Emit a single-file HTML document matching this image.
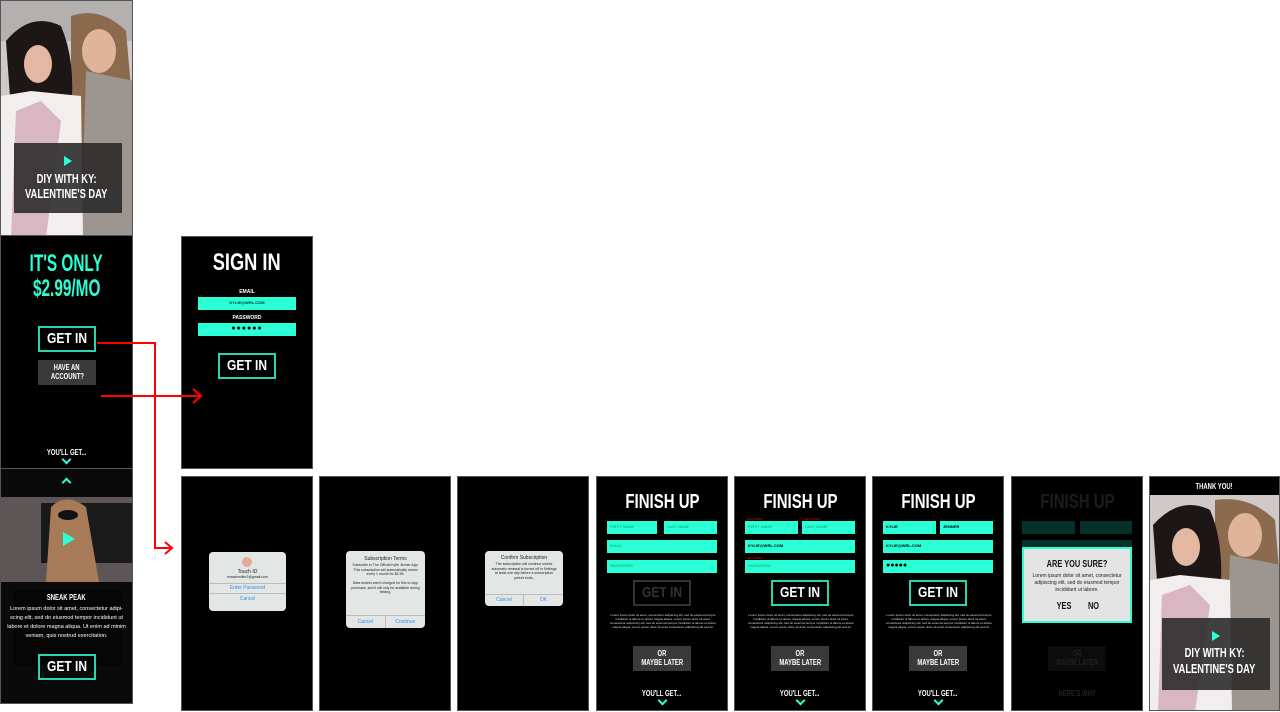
<!DOCTYPE html>
<html><head><meta charset="utf-8">
<style>
*{margin:0;padding:0;box-sizing:border-box}
body{width:1280px;height:712px;background:#fff;position:relative;overflow:hidden;font-family:"Liberation Sans Narrow","Liberation Sans",sans-serif}
.a{position:absolute}
.c{display:inline-block;transform:scaleX(.74);white-space:nowrap}
.scr{position:absolute;background:#000;border:1px solid #555;overflow:hidden}
.t{position:absolute;left:0;right:0;text-align:center;color:#fff;font-weight:bold}
.btn{position:absolute;border:2px solid #2ad6b0;color:#fff;font-weight:bold;text-align:center;font-size:15px;line-height:22px}
.gbtn{position:absolute;background:#3a3a3a;color:#fff;font-weight:bold;text-align:center;font-size:8px;line-height:9px;padding-top:3px}
.fld{position:absolute;background:#2bffd6;color:#0a6;font-size:4px;line-height:12px;padding-left:3px}
.chev{position:absolute;width:7px;height:7px;border-right:2px solid #2bffd6;border-bottom:2px solid #2bffd6;transform:rotate(45deg)}
.lorem{position:absolute;color:#ddd;font-size:3px;line-height:4px;text-align:center;font-family:"Liberation Sans",sans-serif}
.dlg{position:absolute;background:#e2e6e5;border-radius:4px;font-family:"Liberation Sans",sans-serif;text-align:center;color:#222}
.req{position:absolute;color:#e00;font-size:3px}
</style></head><body>

<!-- Screen 1: photo -->
<div class="scr" style="left:0;top:0;width:133px;height:236px;background:#c9c4c6">
<svg class="a" style="left:0;top:0" width="133" height="236">
<rect width="133" height="236" fill="#cfc9c8"/>
<rect x="0" y="0" width="133" height="40" fill="#b5b0b0"/>
<path d="M70 15 Q100 5 125 30 L133 120 L133 236 L70 236 Z" fill="#8b6a4e"/>
<path d="M85 70 L133 80 L133 236 L80 236 Z" fill="#9d958f"/>
<ellipse cx="98" cy="50" rx="17" ry="22" fill="#e0b39b"/>
<path d="M5 40 Q30 10 60 25 Q75 60 70 110 L10 110 Z" fill="#1c1616"/>
<ellipse cx="37" cy="63" rx="14" ry="19" fill="#e3b8a3"/>
<path d="M0 95 L30 90 L80 95 L82 236 L0 236 Z" fill="#f2eeee"/>
<path d="M15 110 L40 100 L60 120 L45 236 L10 236 Z" fill="#d8b6c2"/>
</svg>
<div class="a" style="left:13px;top:142px;width:108px;height:70px;background:rgba(40,40,40,.88)"></div>
<div class="a" style="left:63px;top:155px;width:0;height:0;border-left:8px solid #2bffd6;border-top:5px solid transparent;border-bottom:5px solid transparent"></div>
<div class="t" style="top:170px;font-size:13px;line-height:15px"><span class="c" style="transform:scaleX(.72)">DIY WITH KY:</span><br><span class="c" style="transform:scaleX(.72)">VALENTINE'S DAY</span></div>
</div>

<!-- Screen 2 -->
<div class="scr" style="left:0;top:235px;width:133px;height:234px">
<div class="t" style="top:15px;font-size:24px;line-height:25px;color:#2bffd6"><span class="c" style="transform:scaleX(.64)">IT'S ONLY</span><br><span class="c" style="transform:scaleX(.64)">$2.99/MO</span></div>
<div class="btn" style="left:37px;top:90px;width:58px;height:26px"><span class="c" style="transform:scaleX(.8)">GET IN</span></div>
<div class="gbtn" style="left:37px;top:124px;width:58px;height:25px"><span class="c">HAVE AN</span><br><span class="c">ACCOUNT?</span></div>
<div class="t" style="top:212px;font-size:8px"><span class="c">YOU'LL GET...</span></div>
<div class="chev" style="left:62px;top:220px"></div>
</div>

<!-- Screen 3 -->
<div class="scr" style="left:0;top:468px;width:133px;height:236px;background:#0a0a0a">
<div class="chev" style="left:62px;top:10px;transform:rotate(225deg)"></div>
<svg class="a" style="left:0;top:28px" width="133" height="85">
<rect width="133" height="85" fill="#5e5556"/>
<rect x="40" y="6" width="93" height="60" fill="#1a1a1a"/>
<path d="M50 10 Q65 -5 85 10 L98 85 L45 85 Z" fill="#a77a58"/>
<ellipse cx="67" cy="18" rx="10" ry="5" fill="#111"/>
</svg>
<div class="a" style="left:62px;top:63px;width:0;height:0;border-left:12px solid #2bffd6;border-top:7px solid transparent;border-bottom:7px solid transparent"></div>
<div class="a" style="left:12px;top:122px;width:109px;height:74px;background:#050505"></div>
<div class="t" style="top:124px;font-size:8px"><span class="c">SNEAK PEAK</span></div>
<div class="t" style="top:136px;font-size:5.5px;line-height:9px;font-family:'Liberation Sans',sans-serif;font-weight:normal;padding:0 6px">Lorem ipsum dolor sit amet, consectetur adipi-scing elit, sed do eiusmod tempor incididunt ut labore et dolore magna aliqua. Ut enim ad minim veniam, quis nostrud exercitation.</div>
<div class="btn" style="left:37px;top:185px;width:58px;height:26px"><span class="c" style="transform:scaleX(.8)">GET IN</span></div>
</div>

<!-- Sign in -->
<div class="scr" style="left:181px;top:236px;width:132px;height:233px">
<div class="t" style="top:12px;font-size:24px"><span class="c" style="transform:scaleX(.76)">SIGN IN</span></div>
<div class="t" style="top:52px;font-size:5px">EMAIL</div>
<div class="fld" style="left:16px;top:60px;width:98px;height:13px;text-align:center;color:#033;font-weight:bold;padding:0">KYLIE@WRL.COM</div>
<div class="t" style="top:78px;font-size:5px">PASSWORD</div>
<div class="fld" style="left:16px;top:86px;width:98px;height:13px;text-align:center;color:#000;font-size:7px;letter-spacing:1px;padding:0">●●●●●●</div>
<div class="btn" style="left:36px;top:116px;width:58px;height:26px"><span class="c" style="transform:scaleX(.8)">GET IN</span></div>
</div>

<!-- Bottom row -->
<div class="scr" style="left:181px;top:476px;width:132px;height:235px">
<div class="dlg" style="left:27px;top:75px;width:77px;height:59px">
<div class="a" style="left:33px;top:5px;width:10px;height:10px;border-radius:50%;background:#e8a89a"></div>
<div style="margin-top:17px;font-size:5px">Touch ID</div>
<div style="font-size:3.5px">missshmiller2@gmail.com</div>
<div style="border-top:1px solid #bbb;margin-top:4px;font-size:5px;color:#3a8ee6;line-height:9px">Enter Password</div>
<div style="border-top:1px solid #bbb;font-size:5px;color:#3a8ee6;line-height:11px">Cancel</div>
</div></div>

<div class="scr" style="left:319px;top:476px;width:132px;height:235px">
<div class="dlg" style="left:26px;top:74px;width:79px;height:77px">
<div style="margin-top:5px;font-size:5px">Subscription Terms</div>
<div style="font-size:3.5px;line-height:4.5px;padding:1px 5px">Subscribe to The Official Kylie Jenner App. This subscription will automatically renew every 1 month for $2.99.<br><br>Beta testers aren't charged for this In-App purchase, and it will only be available during testing.</div>
<div class="a" style="left:0;right:0;bottom:0;height:13px;border-top:1px solid #bbb;font-size:5px;color:#3a8ee6;line-height:12px"><span style="float:left;width:50%;border-right:1px solid #bbb">Cancel</span><span>Continue</span></div>
</div></div>

<div class="scr" style="left:457px;top:476px;width:132px;height:235px">
<div class="dlg" style="left:27px;top:74px;width:78px;height:55px">
<div style="margin-top:4px;font-size:5px">Confirm Subscription</div>
<div style="font-size:3.5px;line-height:4.5px;padding:1px 5px">The subscription will continue unless automatic renewal is turned off in Settings at least one day before a subscription period ends.</div>
<div class="a" style="left:0;right:0;bottom:0;height:12px;border-top:1px solid #bbb;font-size:5px;color:#3a8ee6;line-height:11px"><span style="float:left;width:50%;border-right:1px solid #bbb">Cancel</span><span>OK</span></div>
</div></div>

<!-- Finish up 1 -->
<div class="scr" style="left:596px;top:476px;width:132px;height:235px">
<div class="t" style="top:14px;font-size:20px"><span class="c" style="transform:scaleX(.75)">FINISH UP</span></div>
<div class="fld" style="left:10px;top:44px;width:50px;height:13px">FIRST NAME</div>
<div class="fld" style="left:67px;top:44px;width:53px;height:13px">LAST NAME</div>
<div class="fld" style="left:10px;top:63px;width:110px;height:13px">EMAIL</div>
<div class="fld" style="left:10px;top:83px;width:110px;height:13px">PASSWORD</div>
<div class="btn" style="left:36px;top:103px;width:58px;height:26px;border-color:#333;color:#333"><span class="c" style="transform:scaleX(.8)">GET IN</span></div>
<div class="lorem" style="left:12px;top:136px;width:108px">Lorem ipsum dolor sit amet, consectetur adipiscing elit, sed do eiusmod tempor incididunt ut labore et dolore magna aliqua. Lorem ipsum dolor sit amet, consectetur adipiscing elit, sed do eiusmod tempor incididunt ut labore et dolore magna aliqua. Lorem ipsum dolor sit amet consectetur adipiscing elit sed do.</div>
<div class="gbtn" style="left:36px;top:169px;width:58px;height:25px"><span class="c">OR</span><br><span class="c">MAYBE LATER</span></div>
<div class="t" style="top:212px;font-size:8px"><span class="c">YOU'LL GET...</span></div>
<div class="chev" style="left:62px;top:220px"></div>
</div>

<!-- Finish up 2 -->
<div class="scr" style="left:734px;top:476px;width:132px;height:235px">
<div class="t" style="top:14px;font-size:20px"><span class="c" style="transform:scaleX(.75)">FINISH UP</span></div>
<div class="req" style="left:10px;top:40px">* REQUIRED</div><div class="req" style="left:67px;top:40px">* REQUIRED</div>
<div class="fld" style="left:10px;top:44px;width:53px;height:13px">FIRST NAME</div>
<div class="fld" style="left:67px;top:44px;width:53px;height:13px">LAST NAME</div>
<div class="fld" style="left:10px;top:63px;width:110px;height:13px;color:#000;font-weight:bold">KYLIE@WRL.COM</div>
<div class="req" style="left:10px;top:79px">* REQUIRED</div>
<div class="fld" style="left:10px;top:83px;width:110px;height:13px">PASSWORD</div>
<div class="btn" style="left:36px;top:103px;width:58px;height:26px"><span class="c" style="transform:scaleX(.8)">GET IN</span></div>
<div class="lorem" style="left:12px;top:136px;width:108px">Lorem ipsum dolor sit amet, consectetur adipiscing elit, sed do eiusmod tempor incididunt ut labore et dolore magna aliqua. Lorem ipsum dolor sit amet, consectetur adipiscing elit, sed do eiusmod tempor incididunt ut labore et dolore magna aliqua. Lorem ipsum dolor sit amet consectetur adipiscing elit sed do.</div>
<div class="gbtn" style="left:36px;top:169px;width:58px;height:25px"><span class="c">OR</span><br><span class="c">MAYBE LATER</span></div>
<div class="t" style="top:212px;font-size:8px"><span class="c">YOU'LL GET...</span></div>
<div class="chev" style="left:62px;top:220px"></div>
</div>

<!-- Finish up 3 -->
<div class="scr" style="left:872px;top:476px;width:132px;height:235px">
<div class="t" style="top:14px;font-size:20px"><span class="c" style="transform:scaleX(.75)">FINISH UP</span></div>
<div class="fld" style="left:10px;top:44px;width:53px;height:13px;color:#000;font-weight:bold">KYLIE</div>
<div class="fld" style="left:67px;top:44px;width:53px;height:13px;color:#000;font-weight:bold">JENNER</div>
<div class="fld" style="left:10px;top:63px;width:110px;height:13px;color:#000;font-weight:bold">KYLIE@WRL.COM</div>
<div class="fld" style="left:10px;top:83px;width:110px;height:13px;color:#000;font-size:7px">●●●●●</div>
<div class="btn" style="left:36px;top:103px;width:58px;height:26px"><span class="c" style="transform:scaleX(.8)">GET IN</span></div>
<div class="lorem" style="left:12px;top:136px;width:108px">Lorem ipsum dolor sit amet, consectetur adipiscing elit, sed do eiusmod tempor incididunt ut labore et dolore magna aliqua. Lorem ipsum dolor sit amet, consectetur adipiscing elit, sed do eiusmod tempor incididunt ut labore et dolore magna aliqua. Lorem ipsum dolor sit amet consectetur adipiscing elit sed do.</div>
<div class="gbtn" style="left:36px;top:169px;width:58px;height:25px"><span class="c">OR</span><br><span class="c">MAYBE LATER</span></div>
<div class="t" style="top:212px;font-size:8px"><span class="c">YOU'LL GET...</span></div>
<div class="chev" style="left:62px;top:220px"></div>
</div>

<!-- Are you sure -->
<div class="scr" style="left:1011px;top:476px;width:132px;height:235px">
<div class="t" style="top:14px;font-size:20px;color:#1c1c1c"><span class="c" style="transform:scaleX(.75)">FINISH UP</span></div>
<div class="a" style="left:10px;top:44px;width:53px;height:13px;background:#06302a"></div>
<div class="a" style="left:68px;top:44px;width:52px;height:13px;background:#06302a"></div>
<div class="a" style="left:10px;top:63px;width:110px;height:13px;background:#06302a"></div>
<div class="a" style="left:10px;top:70px;width:110px;height:76px;background:#e4e4e4;border:2px solid #2bffd6"></div>
<div class="t" style="top:82px;font-size:10px;color:#111"><span class="c">ARE YOU SURE?</span></div>
<div class="t" style="top:96px;font-size:5px;line-height:7px;color:#222;font-weight:normal;font-family:'Liberation Sans',sans-serif;padding:0 16px">Lorem ipsum dolor sit amet, consectetur adipiscing elit, sed do eiusmod tempor incididunt ut labore.</div>
<div class="a" style="left:42px;top:124px;font-size:10px;font-weight:bold;color:#111"><span class="c">YES</span></div>
<div class="a" style="left:74px;top:124px;font-size:10px;font-weight:bold;color:#111"><span class="c">NO</span></div>
<div class="gbtn" style="left:36px;top:169px;width:58px;height:25px;background:#0c0c0c;color:#222"><span class="c">OR</span><br><span class="c">MAYBE LATER</span></div>
<div class="t" style="top:212px;font-size:8px;color:#222"><span class="c">HERE'S WHY</span></div>
</div>

<!-- Thank you -->
<div class="scr" style="left:1149px;top:476px;width:131px;height:235px">
<div class="t" style="top:5px;font-size:8px"><span class="c">THANK YOU!</span></div>
<svg class="a" style="left:0;top:18px" width="131" height="217">
<rect width="131" height="217" fill="#cfc9c8"/>
<path d="M65 5 Q100 0 125 25 L131 100 L131 217 L65 217 Z" fill="#8b6a4e"/>
<path d="M80 60 L131 70 L131 217 L75 217 Z" fill="#9d958f"/>
<ellipse cx="95" cy="40" rx="17" ry="22" fill="#e0b39b"/>
<path d="M3 30 Q30 0 60 15 Q75 50 70 100 L8 100 Z" fill="#1c1616"/>
<ellipse cx="36" cy="52" rx="14" ry="19" fill="#e3b8a3"/>
<path d="M0 85 L30 80 L80 85 L82 217 L0 217 Z" fill="#f2eeee"/>
<path d="M12 100 L40 90 L60 110 L45 217 L8 217 Z" fill="#d8b6c2"/>
</svg>
<div class="a" style="left:12px;top:141px;width:108px;height:72px;background:rgba(40,40,40,.88)"></div>
<div class="a" style="left:62px;top:154px;width:0;height:0;border-left:8px solid #2bffd6;border-top:5px solid transparent;border-bottom:5px solid transparent"></div>
<div class="t" style="top:168px;font-size:13px;line-height:16px"><span class="c" style="transform:scaleX(.72)">DIY WITH KY:</span><br><span class="c" style="transform:scaleX(.72)">VALENTINE'S DAY</span></div>
</div>

<!-- Arrows -->
<svg class="a" style="left:0;top:0" width="1280" height="712">
<g stroke="#f00" stroke-width="2" fill="none">
<polyline points="97,343 155,343 155,548 170,548"/>
<polyline points="165,542 172,548 165,554"/>
<polyline points="101,396 200,396"/>
<polyline points="193,389 201,396 193,403"/>
</g>
</svg>
</body></html>
